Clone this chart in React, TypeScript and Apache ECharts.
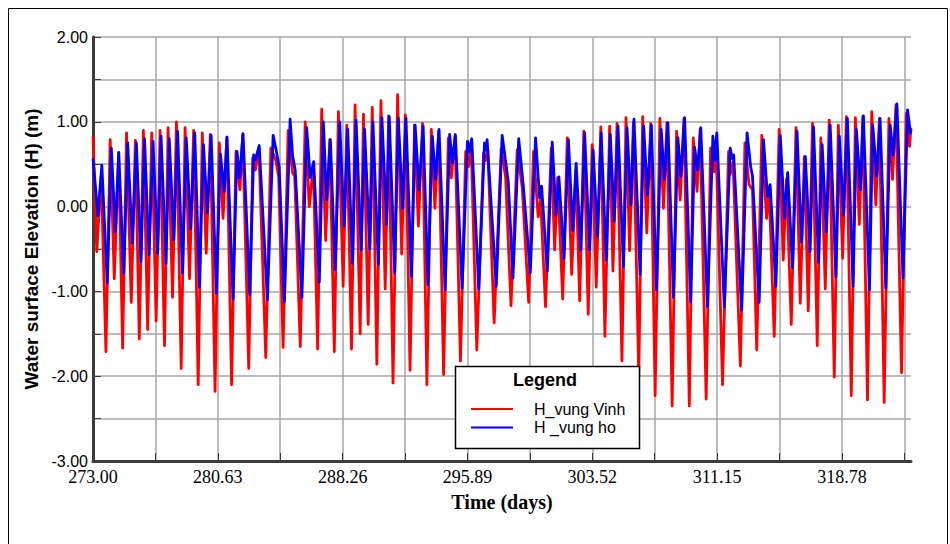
import React, { useEffect, useRef } from "react";
import * as echarts from "echarts";

// Time (days) tick labels shown every other grid line
const xTickLabels = ["273.00", "280.63", "288.26", "295.89", "303.52", "311.15", "318.78"];
const xMin = 273.0;
const xMax = 323.0;
const xLabelStep = 7.63;
const xGridStep = 3.815;
const yMin = -3;
const yMax = 2;

const seriesNames = ["H_vung Vinh", "H _vung ho"];

// H_vung Vinh: [day, water level (m)]
const vinh: [number, number][] = [
  [273.00,0.83],[273.23,-0.53],[273.50,0.36],[273.79,-1.71],[274.05,0.79],[274.30,-0.85],[274.57,0.63],[274.81,-1.67],[275.05,0.87],[275.34,-1.13],[275.59,0.78],[275.83,-1.56],[276.08,0.90],[276.34,-1.45],[276.59,0.87],[276.86,-1.35],[277.10,0.90],[277.37,-1.64],[277.59,0.93],[277.86,-1.07],[278.10,1.00],[278.39,-1.91],[278.63,0.93],[278.90,-0.85],[279.15,0.90],[279.43,-2.10],[279.68,0.87],[279.92,-0.55],[280.17,0.85],[280.46,-2.18],[280.72,0.75],[280.95,-0.14],[281.18,0.82],[281.47,-2.10],[281.74,0.65],[281.98,0.20],[282.15,0.85],[282.52,-1.91],[282.76,0.57],[282.92,0.43],[283.14,0.69],[283.56,-1.78],[283.87,0.69],[284.17,0.55],[284.35,0.35],[284.62,-1.66],[284.93,0.90],[285.20,0.40],[285.33,0.36],[285.67,-1.65],[285.97,1.00],[286.22,0.00],[286.47,0.50],[286.73,-1.68],[286.98,1.15],[287.22,-0.40],[287.47,0.79],[287.75,-1.71],[288.00,1.12],[288.29,-0.94],[288.51,0.96],[288.80,-1.68],[289.02,1.20],[289.33,-1.50],[289.53,1.09],[289.82,-1.39],[290.07,1.17],[290.35,-1.86],[290.60,1.25],[290.86,-0.97],[291.07,1.07],[291.34,-2.08],[291.62,1.32],[291.87,-0.56],[292.09,1.08],[292.38,-1.93],[292.65,0.96],[292.89,-0.23],[293.14,0.98],[293.41,-2.10],[293.68,0.91],[293.90,-0.02],[294.13,0.89],[294.43,-1.98],[294.72,0.81],[294.90,0.34],[295.13,0.83],[295.46,-1.82],[295.78,0.65],[295.95,0.47],[296.11,0.77],[296.46,-1.69],[296.87,0.63],[296.99,0.54],[297.13,0.67],[297.52,-1.37],[297.95,0.68],[298.22,0.35],[298.55,-1.17],[298.93,0.67],[299.24,0.22],[299.63,-1.13],[299.93,0.65],[300.21,-0.12],[300.36,0.08],[300.66,-1.18],[301.01,0.69],[301.22,-0.51],[301.40,0.34],[301.71,-1.09],[301.99,0.81],[302.26,-0.80],[302.51,0.43],[302.75,-1.11],[303.00,0.89],[303.27,-1.27],[303.51,0.73],[303.76,-0.95],[304.04,0.94],[304.29,-1.53],[304.58,0.95],[304.78,-0.76],[305.03,0.98],[305.33,-1.82],[305.58,1.05],[305.80,-0.52],[306.03,1.00],[306.36,-2.00],[306.60,1.06],[306.85,-0.31],[307.09,0.98],[307.36,-2.23],[307.65,1.04],[307.87,-0.02],[308.08,0.99],[308.40,-2.35],[308.67,0.89],[308.89,0.08],[309.12,1.04],[309.45,-2.35],[309.69,0.81],[309.92,0.18],[310.11,0.91],[310.48,-2.27],[310.75,0.69],[310.97,0.41],[311.09,0.67],[311.48,-2.10],[311.85,0.65],[311.95,0.38],[312.12,0.53],[312.57,-1.88],[312.85,0.75],[313.10,0.26],[313.31,0.20],[313.57,-1.69],[313.88,0.84],[314.17,-0.14],[314.33,0.20],[314.64,-1.53],[314.94,0.91],[315.19,-0.63],[315.39,0.32],[315.68,-1.39],[315.97,0.93],[316.23,-1.14],[316.48,0.59],[316.72,-1.23],[316.98,0.98],[317.27,-1.64],[317.49,0.81],[317.76,-0.97],[318.00,1.02],[318.31,-2.01],[318.56,0.96],[318.82,-0.61],[319.05,1.06],[319.35,-2.23],[319.60,1.05],[319.84,-0.21],[320.05,1.06],[320.34,-2.28],[320.60,1.12],[320.85,0.02],[321.07,1.04],[321.36,-2.31],[321.65,1.04],[321.87,0.32],[322.08,1.20],[322.42,-1.96],[322.71,1.10],[322.91,0.71],[323.00,0.93]
];

// H _vung ho: [day, water level (m)]
const ho: [number, number][] = [
  [273.00,0.57],[273.30,-0.11],[273.54,0.49],[273.87,-0.90],[274.12,0.69],[274.37,-0.30],[274.57,0.64],[274.88,-0.78],[275.12,0.75],[275.40,-0.43],[275.65,0.75],[275.93,-0.65],[276.15,0.80],[276.42,-0.57],[276.67,0.77],[276.95,-0.55],[277.16,0.83],[277.46,-0.67],[277.66,0.80],[277.94,-0.39],[278.17,0.89],[278.47,-0.78],[278.70,0.81],[278.97,-0.26],[279.22,0.87],[279.50,-0.95],[279.75,0.73],[279.99,-0.07],[280.22,0.84],[280.54,-1.02],[280.79,0.62],[281.02,0.18],[281.19,0.82],[281.56,-1.09],[281.80,0.65],[281.96,0.34],[282.17,0.86],[282.58,-1.04],[282.82,0.61],[282.92,0.55],[283.16,0.72],[283.66,-1.10],[284.01,0.84],[284.17,0.69],[284.38,0.47],[284.70,-1.12],[285.05,1.03],[285.20,0.60],[285.36,0.43],[285.77,-1.07],[286.06,0.93],[286.28,0.34],[286.49,0.53],[286.83,-0.89],[287.08,1.00],[287.28,0.08],[287.51,0.79],[287.80,-0.74],[288.08,1.00],[288.35,-0.23],[288.57,0.91],[288.86,-0.67],[289.08,1.02],[289.39,-0.51],[289.60,0.91],[289.92,-0.50],[290.11,1.00],[290.44,-0.68],[290.66,1.05],[290.95,-0.21],[291.11,1.06],[291.44,-0.78],[291.66,1.04],[291.93,-0.02],[292.13,1.04],[292.46,-0.82],[292.69,0.96],[292.93,0.20],[293.18,0.95],[293.47,-0.92],[293.74,0.83],[293.94,0.32],[294.15,0.91],[294.52,-0.98],[294.80,0.85],[294.97,0.52],[295.15,0.85],[295.56,-0.96],[295.89,0.77],[296.01,0.65],[296.15,0.80],[296.58,-0.97],[296.93,0.75],[297.03,0.67],[297.09,0.79],[297.65,-0.94],[298.01,0.84],[298.38,0.30],[298.67,-0.84],[299.02,0.80],[299.30,0.25],[299.73,-0.78],[300.05,0.81],[300.30,0.10],[300.42,0.24],[300.77,-0.76],[301.07,0.76],[301.30,-0.10],[301.48,0.35],[301.79,-0.61],[302.06,0.79],[302.32,-0.28],[302.53,0.51],[302.82,-0.51],[303.05,0.87],[303.35,-0.51],[303.57,0.67],[303.84,-0.35],[304.06,0.87],[304.37,-0.63],[304.62,0.85],[304.86,-0.17],[305.09,0.95],[305.42,-0.71],[305.64,0.93],[305.89,0.02],[306.07,1.03],[306.44,-0.80],[306.66,0.95],[306.89,0.14],[307.13,0.96],[307.44,-0.98],[307.73,0.91],[307.93,0.32],[308.14,0.99],[308.48,-1.07],[308.75,0.81],[308.94,0.36],[309.16,1.05],[309.53,-1.12],[309.77,0.70],[309.96,0.43],[310.15,0.93],[310.56,-1.18],[310.89,0.83],[311.01,0.55],[311.13,0.87],[311.59,-1.18],[311.95,0.69],[312.06,0.57],[312.16,0.61],[312.65,-1.22],[312.98,0.87],[313.20,0.47],[313.31,0.36],[313.72,-1.13],[313.98,0.79],[314.23,0.12],[314.39,0.26],[314.74,-0.94],[315.01,0.84],[315.27,-0.14],[315.46,0.40],[315.76,-0.72],[316.03,0.89],[316.31,-0.42],[316.54,0.59],[316.83,-0.53],[317.04,0.94],[317.35,-0.66],[317.57,0.73],[317.82,-0.30],[318.06,0.96],[318.41,-0.83],[318.62,0.83],[318.88,-0.10],[319.11,1.04],[319.46,-0.94],[319.66,0.91],[319.91,0.20],[320.09,1.07],[320.46,-0.98],[320.66,0.96],[320.91,0.36],[321.11,1.04],[321.46,-0.96],[321.73,0.96],[321.91,0.61],[322.14,1.21],[322.51,-0.84],[322.79,1.14],[322.96,0.87],[323.00,0.91]
];

const SANS = '"Liberation Sans", Arial, Helvetica, sans-serif';
const SERIF = '"Liberation Serif", "Times New Roman", Times, serif';

export default function App() {
  const ref = useRef<HTMLDivElement>(null);

  useEffect(() => {
    if (!ref.current) return;
    const chart = echarts.init(ref.current, null, { renderer: "svg" });
    const axisDark = "#3c3c3c";
    const gridGray = "#a6a6a6";

    const option: any = {
      animation: false,
      backgroundColor: "#ffffff",
      grid: { left: 93, right: 39, top: 37, bottom: 83, containLabel: false },
      xAxis: {
        type: "value",
        min: xMin,
        max: xMax,
        interval: xGridStep,
        name: "Time (days)",
        nameLocation: "middle",
        nameGap: 31,
        nameTextStyle: { fontFamily: SERIF, fontWeight: "bold", fontSize: 20, color: "#000" },
        axisLine: { show: true, onZero: false, lineStyle: { color: axisDark, width: 3 } },
        axisTick: { show: true, inside: true, length: 8, lineStyle: { color: axisDark, width: 1 } },
        splitLine: { show: true, showMinLine: false, showMaxLine: false, lineStyle: { color: gridGray, width: 1.5 } },
        axisLabel: {
          margin: 8,
          fontFamily: SERIF,
          fontSize: 18,
          lineHeight: 16,
          color: "#000",
          showMaxLabel: false,
          formatter: (v: number) => {
            const k = (v - xMin) / xLabelStep;
            const r = Math.round(k);
            return Math.abs(k - r) < 1e-6 && r < xTickLabels.length ? xTickLabels[r] : "";
          },
        },
      },
      yAxis: {
        type: "value",
        min: yMin,
        max: yMax,
        interval: 0.5,
        name: "Water surface Elevation (H) (m)",
        nameLocation: "middle",
        nameGap: 51,
        nameTextStyle: { fontFamily: SANS, fontWeight: "bold", fontSize: 19, color: "#000" },
        axisLine: { show: true, onZero: false, lineStyle: { color: axisDark, width: 3 } },
        axisTick: { show: true, inside: true, length: 8, lineStyle: { color: axisDark, width: 1 } },
        splitLine: { show: true, showMinLine: false, lineStyle: { color: gridGray, width: 1.5 } },
        axisLabel: {
          margin: 5,
          fontFamily: SANS,
          fontSize: 16,
          lineHeight: 13,
          color: "#000",
          formatter: (v: number) => (Math.abs(v - Math.round(v)) < 1e-6 ? Math.round(v).toFixed(2) : ""),
        },
      },
      series: [
        {
          name: seriesNames[0],
          type: "line",
          data: vinh,
          showSymbol: false,
          symbol: "none",
          lineStyle: { color: "#ff0000", width: 2.8, join: "round" },
          z: 2,
        },
        {
          name: seriesNames[1],
          type: "line",
          data: ho,
          showSymbol: false,
          symbol: "none",
          lineStyle: { color: "#0000ff", width: 2.8, join: "round" },
          z: 3,
        },
      ],
      graphic: [
        {
          type: "rect",
          z: 0,
          silent: true,
          shape: { x: 8.5, y: 8.5, width: 939, height: 600 },
          style: { fill: "none", stroke: "#000", lineWidth: 1 },
        },
        {
          type: "rect",
          z: 50,
          shape: { x: 455.5, y: 366.5, width: 184, height: 82 },
          style: { fill: "#fff", stroke: "#000", lineWidth: 1.5 },
        },
        {
          type: "text",
          z: 51,
          x: 545,
          y: 380,
          style: { text: "Legend", fontFamily: SANS, fontWeight: "bold", fontSize: 18, fill: "#000", align: "center", verticalAlign: "middle" },
        },
        {
          type: "line",
          z: 51,
          shape: { x1: 471, y1: 409, x2: 513, y2: 409 },
          style: { stroke: "#ff0000", lineWidth: 2 },
        },
        {
          type: "text",
          z: 51,
          x: 534,
          y: 409,
          style: { text: seriesNames[0], fontFamily: SANS, fontSize: 16, fill: "#000", align: "left", verticalAlign: "middle" },
        },
        {
          type: "line",
          z: 51,
          shape: { x1: 471, y1: 427.5, x2: 513, y2: 427.5 },
          style: { stroke: "#0000ff", lineWidth: 2 },
        },
        {
          type: "text",
          z: 51,
          x: 534,
          y: 427.5,
          style: { text: seriesNames[1], fontFamily: SANS, fontSize: 16, fill: "#000", align: "left", verticalAlign: "middle" },
        },
      ],
    };

    chart.setOption(option);
    return () => chart.dispose();
  }, []);

  return (
    <div
      ref={ref}
      style={{ position: "fixed", left: 0, top: 0, width: 950, height: 544, background: "#fff" }}
    />
  );
}
